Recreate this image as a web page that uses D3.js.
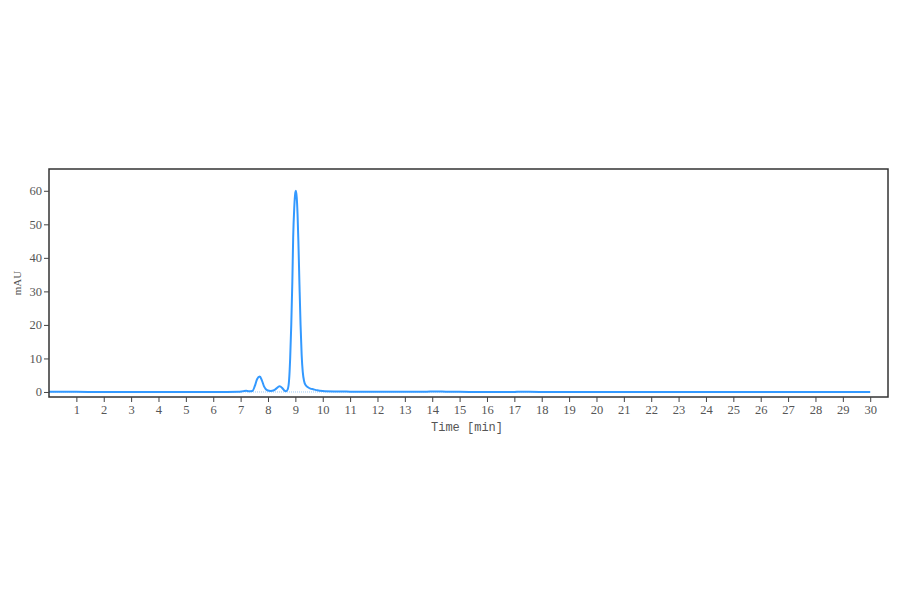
<!DOCTYPE html>
<html>
<head>
<meta charset="utf-8">
<script src="https://cdn.jsdelivr.net/npm/d3@7"></script>
<style>
  html, body { margin: 0; padding: 0; background: #fff; }
  svg { display: block; }
  text { font-family: "Liberation Serif", "DejaVu Serif", serif; fill: #555; }
  text.mono { font-family: "Liberation Mono", "DejaVu Sans Mono", monospace; }
</style>
</head>
<body>
<svg id="chart" width="900" height="594"></svg>
<script>
// Data
const times = [0, 1, 2, 3, 4, 5, 6, 6.9, 7.1, 7.2, 7.3, 7.43, 7.52, 7.6, 7.7, 7.78, 7.86, 7.97, 8.1, 8.22, 8.3, 8.42, 8.52, 8.6, 8.66, 8.72, 8.77, 8.81, 8.85, 8.89, 8.92, 8.96, 9.0, 9.02, 9.05, 9.08, 9.11, 9.15, 9.19, 9.23, 9.27, 9.32, 9.38, 9.46, 9.55, 9.65, 9.8, 10.0, 10.5, 11, 12, 13, 13.8, 14.1, 14.5, 15, 16, 17, 17.2, 17.5, 18, 20, 22, 24, 26, 28, 30];
const mAU   = [0.1, 0.05, 0, 0, 0, 0, 0, 0.05, 0.25, 0.35, 0.2, 0.3, 1.8, 3.8, 4.6, 3.4, 1.6, 0.5, 0.3, 0.5, 1.0, 1.7, 1.2, 0.4, 0.25, 0.8, 3.5, 10, 20, 33, 46, 55, 59.5, 60, 58, 53, 45, 32, 20, 11, 6, 3.2, 2.0, 1.4, 1.0, 0.8, 0.5, 0.3, 0.15, 0.1, 0.05, 0.05, 0.1, 0.15, 0.1, 0.05, 0, 0, 0.1, 0.05, 0, 0, 0, 0, 0, 0, 0];
const xTicks = d3.range(1, 31);
const yTicks = [0, 10, 20, 30, 40, 50, 60];
const xLabel = "Time [min]";
const yLabel = "mAU";

const svg = d3.select("#chart");
const mLeft = 49, mRight = 888, mTop = 169, mBottom = 397;

const x = d3.scaleLinear().domain([0, 30.65]).range([mLeft, mRight]);
const y = d3.scaleLinear().domain([-1.5, 66.5]).range([mBottom, mTop]);

// baseline (dotted)
svg.append("line")
  .attr("x1", x(0)).attr("x2", x(30))
  .attr("y1", y(0)).attr("y2", y(0))
  .attr("stroke", "#9cc8f5").attr("stroke-width", 1)
  .attr("stroke-dasharray", "1,1");

const data = times.map((t, i) => [t, mAU[i]]);
const line = d3.line().x(d => x(d[0])).y(d => y(d[1])).curve(d3.curveMonotoneX);
svg.append("path")
  .datum(data)
  .attr("d", line)
  .attr("fill", "none")
  .attr("stroke", "#3399ff")
  .attr("stroke-width", 2)
  .attr("stroke-linejoin", "round");

// frame
svg.append("rect")
  .attr("x", mLeft).attr("y", mTop)
  .attr("width", mRight - mLeft).attr("height", mBottom - mTop)
  .attr("fill", "none").attr("stroke", "#333").attr("stroke-width", 1.5);

// axes
const xAxis = d3.axisBottom(x).tickValues(xTicks).tickSize(5).tickPadding(3).tickFormat(d3.format("d"));
const gx = svg.append("g").attr("transform", `translate(0,${mBottom})`).call(xAxis);
gx.select(".domain").remove();
gx.selectAll("line").attr("stroke", "#444");
gx.selectAll("text").attr("font-size", 12.5).attr("fill", "#555");

const yAxis = d3.axisLeft(y).tickValues(yTicks).tickSize(5).tickPadding(2).tickFormat(d3.format("d"));
const gy = svg.append("g").attr("transform", `translate(${mLeft},0)`).call(yAxis);
gy.select(".domain").remove();
gy.selectAll("line").attr("stroke", "#444");
gy.selectAll("text").attr("font-size", 12.5).attr("fill", "#555");

svg.append("text")
  .attr("class", "mono")
  .attr("x", 467).attr("y", 431)
  .attr("text-anchor", "middle").attr("font-size", 12)
  .text(xLabel);

svg.append("text")
  .attr("transform", `translate(21,${(mTop + mBottom) / 2}) rotate(-90)`)
  .attr("text-anchor", "middle").attr("font-size", 11)
  .text(yLabel);
</script>
</body>
</html>
